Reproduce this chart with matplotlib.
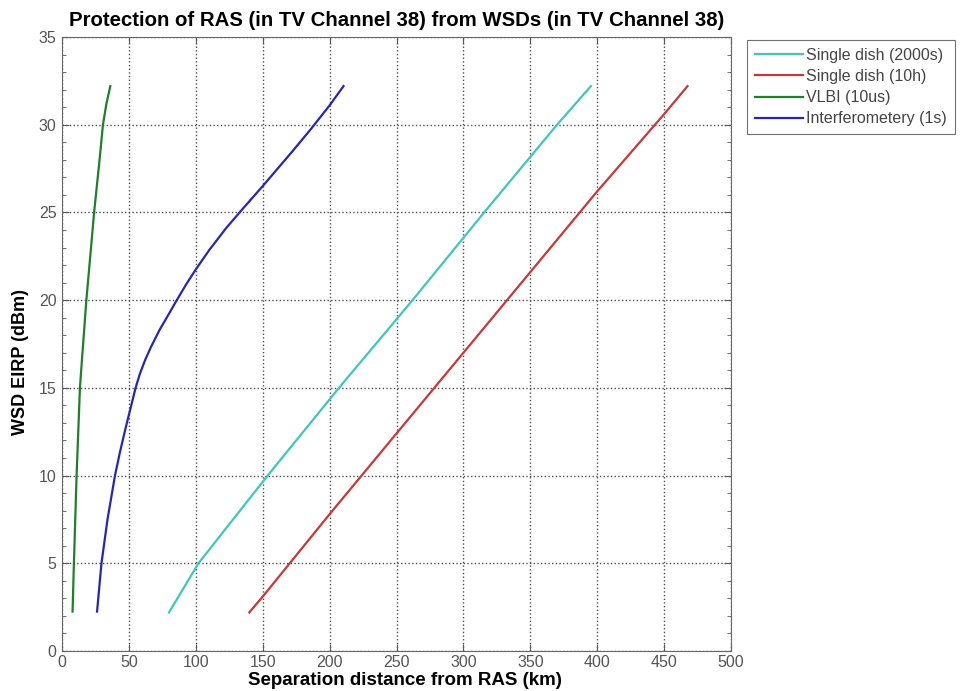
import matplotlib
matplotlib.use("Agg")
import matplotlib.pyplot as plt
from matplotlib.ticker import MultipleLocator

# Data
eirp_cyan = [2.2, 5, 10, 15, 20, 25, 30, 32.2]
dist_cyan = [80, 102, 153.7, 207, 262, 315.5, 370, 395.3]

eirp_red = [2.2, 3.1, 7.8, 12.4, 17.0, 21.6, 26.2, 30.6, 32.2]
dist_red = [140, 150, 200, 250, 300, 350, 400, 450, 467.5]

eirp_green = [2.25, 5, 10, 15, 17.0, 20, 22.4, 25, 28.1, 30, 31.2, 32.2]
dist_green = [7.9, 8.9, 10.9, 13.4, 15.3, 18.2, 21.0, 24.0, 28.2, 30.6, 33.2, 36.1]

eirp_blue = [2.25, 5, 7.5, 10, 11.3, 12.6, 15, 15.8, 16.6, 17.3, 18.3, 19.27, 19.9, 20.9,
             21.75, 22.85, 24.1, 25.2, 26.5, 28.5, 29.75, 31.1, 32.2]
dist_blue = [26.2, 29.5, 34.0, 39.6, 43.2, 47.2, 55, 58.2, 62.2, 66.3, 72.9, 80.3, 85, 92.8,
             100, 110, 122.6, 135, 150, 172.4, 186, 200, 210.4]

labels = ["Single dish (2000s)", "Single dish (10h)", "VLBI (10us)", "Interferometery (1s)"]
colors = ["#3fc6bd", "#c83838", "#1f7f2a", "#2626b4"]

title = "Protection of RAS (in TV Channel 38) from WSDs (in TV Channel 38)"
xlabel = "Separation distance from RAS (km)"
ylabel = "WSD EIRP (dBm)"
xticks = [0, 50, 100, 150, 200, 250, 300, 350, 400, 450, 500]
yticks = [0, 5, 10, 15, 20, 25, 30, 35]

plt.rcParams['font.family'] = ['Liberation Sans', 'DejaVu Sans']

fig = plt.figure(figsize=(9.6, 6.91), dpi=100)
ax = fig.add_axes([62/960, 40/691, (731-62)/960, (651-37)/691])

series = [(dist_cyan, eirp_cyan), (dist_red, eirp_red), (dist_green, eirp_green), (dist_blue, eirp_blue)]
for (x, y), lab, c in zip(series, labels, colors):
    ax.plot(x, y, color=c, lw=1.6, label=lab, solid_joinstyle='round')

ax.set_xlim(0, 500)
ax.set_ylim(0, 35)
ax.set_xticks(xticks)
ax.set_yticks(yticks)
ax.yaxis.set_minor_locator(MultipleLocator(1))
ax.tick_params(direction='in', which='both', top=True, right=True, labelsize=11.5,
               colors='0.35', labelcolor='#555555')
ax.tick_params(which='major', length=5, pad=4)
ax.tick_params(axis='x', which='major', pad=3)
ax.tick_params(which='minor', length=3)
ax.grid(True, which='major', linestyle=':', color='0.3', lw=1.0)
for s in ax.spines.values():
    s.set_color('0.4')

ax.set_title(title, fontsize=14.7, fontweight='bold', pad=8)
ax.set_xlabel(xlabel, fontsize=13.5, fontweight='bold')
ax.xaxis.set_label_coords(0.512, -0.034)
ax.set_ylabel(ylabel, fontsize=13, fontweight='bold')
ax.yaxis.set_label_coords(-0.049, 0.47)

leg = ax.legend(loc='upper left', bbox_to_anchor=(747/960, (691-40)/691), bbox_transform=fig.transFigure,
                fontsize=11.5, frameon=True, fancybox=False, edgecolor='0.3', handlelength=3.0,
                borderaxespad=0, handletextpad=0.2, labelspacing=0.38, borderpad=0.5)
leg.get_frame().set_linewidth(0.8)
for t in leg.get_texts():
    t.set_color('#444444')

fig.savefig("out.png", dpi=100)
